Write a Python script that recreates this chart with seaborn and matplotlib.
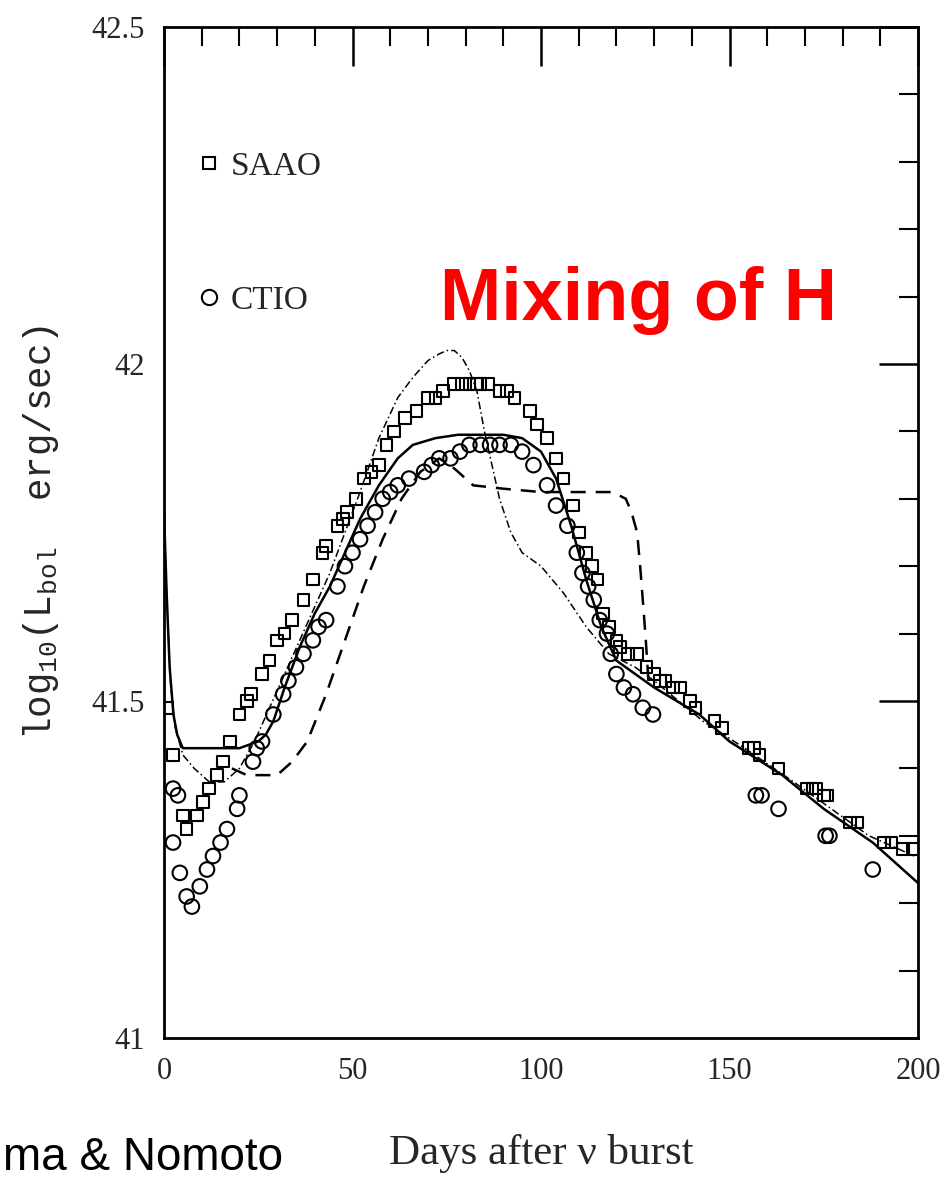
import numpy as np
import pandas as pd
import matplotlib
matplotlib.use("Agg")
import matplotlib.pyplot as plt
from matplotlib.lines import Line2D
from matplotlib.ticker import MultipleLocator
import seaborn as sns

# ---------------- data ----------------
saao_day = [0.8, 2.4, 5, 6, 8.7, 10.3, 12, 14, 15.6, 17.5, 20, 22, 23, 26, 28, 30, 32, 34,
            37, 39.5, 42, 43, 46, 47.5, 48.5, 51, 53, 55, 57, 59, 61, 64, 67, 70, 72, 74,
            77, 79, 81, 83, 84, 86, 89, 91, 93, 97, 99, 101.6, 104, 106, 108.5, 110, 112,
            113.5, 115, 116.5, 118, 120, 121, 123, 125.5, 128, 130, 131.5, 133, 135, 137,
            139.5, 141, 146, 148, 155, 156.5, 158, 163, 170.5, 172, 173, 175, 176, 182,
            184, 191, 193, 196, 198.6]
saao_val = [41.49, 41.42, 41.33, 41.31, 41.33, 41.35, 41.37, 41.39, 41.41, 41.44, 41.48,
            41.50, 41.51, 41.54, 41.56, 41.59, 41.60, 41.62, 41.65, 41.68, 41.72, 41.73,
            41.76, 41.77, 41.78, 41.80, 41.83, 41.84, 41.85, 41.88, 41.90, 41.92, 41.93,
            41.95, 41.95, 41.96, 41.97, 41.97, 41.97, 41.97, 41.97, 41.97, 41.96, 41.96,
            41.95, 41.93, 41.91, 41.89, 41.86, 41.83, 41.79, 41.75, 41.72, 41.70, 41.68,
            41.63, 41.61, 41.59, 41.58, 41.57, 41.57, 41.55, 41.54, 41.53, 41.53, 41.52,
            41.52, 41.50, 41.49, 41.47, 41.46, 41.43, 41.43, 41.42, 41.40, 41.37, 41.37,
            41.37, 41.36, 41.36, 41.32, 41.32, 41.29, 41.29, 41.28, 41.28]

ctio_day = [2.4, 3.7, 2.4, 4.2, 6, 7.4, 9.5, 11.4, 13, 15, 16.7, 19.4, 20, 23.6, 24.6, 26,
            29, 31.6, 33, 35, 37, 39.5, 41, 43, 46, 48, 50, 52, 54, 56, 58, 60, 62, 65,
            69, 71, 73, 76, 78.5, 81, 84, 86.5, 89, 92, 95, 98, 101.6, 104, 107, 109.5,
            111, 112.5, 114, 115.6, 117.5, 118.5, 120, 122, 124.4, 127, 129.7, 157,
            158.5, 163, 175.5, 176.5, 188]
ctio_val = [41.37, 41.36, 41.29, 41.245, 41.21, 41.195, 41.225, 41.25, 41.27, 41.29,
            41.31, 41.34, 41.36, 41.41, 41.43, 41.44, 41.48, 41.51, 41.53, 41.55, 41.57,
            41.59, 41.61, 41.62, 41.67, 41.70, 41.72, 41.74, 41.76, 41.78, 41.80, 41.81,
            41.82, 41.83, 41.84, 41.85, 41.86, 41.86, 41.87, 41.88, 41.88, 41.88, 41.88,
            41.88, 41.87, 41.85, 41.82, 41.79, 41.76, 41.72, 41.69, 41.67, 41.65, 41.62,
            41.60, 41.57, 41.54, 41.52, 41.51, 41.49, 41.48, 41.36, 41.36, 41.34, 41.30,
            41.30, 41.25]

solid_day = [0, 0.7, 1.5, 2.5, 3.5, 5, 10, 15, 20, 25, 27, 29, 32, 36, 40, 44, 48, 52, 57,
             62, 66, 72, 78, 84, 90, 95, 100, 104, 108, 112, 116, 120, 125, 130, 142, 150,
             164, 175, 188, 200]
solid_val = [41.78, 41.66, 41.55, 41.48, 41.45, 41.43, 41.43, 41.43, 41.43, 41.44, 41.45,
             41.47, 41.52, 41.58, 41.63, 41.67, 41.72, 41.77, 41.82, 41.86, 41.88, 41.89,
             41.895, 41.895, 41.895, 41.89, 41.87, 41.83, 41.76, 41.68, 41.61, 41.56,
             41.54, 41.52, 41.48, 41.44, 41.39, 41.34, 41.29, 41.23]

dashdot_day = [0, 0.8, 1.8, 3, 5, 8, 12, 16, 20, 24, 28, 32, 36, 40, 44, 48, 52, 57, 62,
               66, 70, 73, 75, 77, 79, 81, 83, 85, 87, 89, 92, 95, 100, 106, 112, 118, 125,
               130, 143, 154, 167, 187, 199]
dashdot_val = [41.78, 41.64, 41.52, 41.46, 41.42, 41.40, 41.38, 41.38, 41.40, 41.44,
               41.49, 41.54, 41.59, 41.64, 41.69, 41.75, 41.81, 41.89, 41.95, 41.98,
               42.005, 42.015, 42.02, 42.02, 42.01, 41.99, 41.96, 41.90, 41.85, 41.80,
               41.75, 41.72, 41.70, 41.66, 41.61, 41.57, 41.55, 41.53, 41.47, 41.43,
               41.38, 41.30, 41.27]

dashed_day = [18, 22, 25, 30, 34, 38, 43, 48, 53, 58, 63, 68, 73, 77, 82, 90, 100, 112,
              119, 122.5, 124, 125.5, 126.3, 127, 127.8, 128.5]
dashed_val = [41.40, 41.39, 41.39, 41.39, 41.41, 41.44, 41.51, 41.59, 41.67, 41.74, 41.80,
              41.84, 41.86, 41.845, 41.82, 41.815, 41.81, 41.81, 41.81, 41.80, 41.78,
              41.75, 41.70, 41.65, 41.59, 41.53]

x_ticks = [0, 50, 100, 150, 200]
y_ticks = [41, 41.5, 42, 42.5]
y_ticklabels = ["41", "41.5", "42", "42.5"]

# ---------------- plot ----------------
sns.set_style("white")
plt.rcParams["font.family"] = ["Liberation Serif", "DejaVu Serif"]
plt.rcParams["mathtext.fontset"] = "custom"
plt.rcParams["mathtext.rm"] = "Liberation Mono"
plt.rcParams["mathtext.it"] = "Liberation Mono"

fig = plt.figure(figsize=(9.47, 11.82), dpi=100)
ax = fig.add_axes([164 / 947, 1 - 1038 / 1182, (918 - 164) / 947, (1038 - 27) / 1182])

saao = pd.DataFrame({"day": saao_day, "L": saao_val})
ctio = pd.DataFrame({"day": ctio_day, "L": ctio_val})

sns.lineplot(x=solid_day, y=solid_val, ax=ax, color="black", lw=1.8,
             estimator=None, sort=False)
sns.lineplot(x=dashdot_day, y=dashdot_val, ax=ax, color="black", lw=1.1,
             estimator=None, sort=False).lines[-1].set_dashes([5, 2, 1, 2])
sns.lineplot(x=dashed_day, y=dashed_val, ax=ax, color="black", lw=1.8,
             estimator=None, sort=False).lines[-1].set_dashes([6, 4])

sns.scatterplot(data=saao, x="day", y="L", ax=ax, marker="s", s=70,
                facecolor="none", edgecolor="black", linewidth=1.5)
sns.scatterplot(data=ctio, x="day", y="L", ax=ax, marker="o", s=110,
                facecolor="none", edgecolor="black", linewidth=1.5)

ax.set_xlim(0, 200)
ax.set_ylim(41, 42.5)
ax.set_xticks(x_ticks)
ax.set_xticklabels([str(t) for t in x_ticks])
ax.set_yticks(y_ticks)
ax.set_yticklabels(y_ticklabels)
ax.xaxis.set_minor_locator(MultipleLocator(10))
ax.yaxis.set_minor_locator(MultipleLocator(0.1))
ax.tick_params(which="both", direction="in", top=True, right=True, color="black",
               labelsize=22, width=1.5)
ax.tick_params(which="major", length=28, width=1.8, pad=14)
ax.tick_params(which="minor", length=14)
for sp in ax.spines.values():
    sp.set_visible(True)
    sp.set_color("black")
    sp.set_linewidth(2)

ax.set_xlabel("Days after \u03bd burst", fontsize=31, labelpad=34)
ax.set_ylabel(r"log$_{10}$(L$_{\rm bol}$  erg/sec)", fontsize=27,
              family=["Liberation Mono", "DejaVu Sans Mono"])
ax.yaxis.set_label_coords(-0.136, 0.50)

handles = [Line2D([], [], ls="none", marker="s", ms=9, mfc="none", mec="black", mew=1.5),
           Line2D([], [], ls="none", marker="o", ms=11, mfc="none", mec="black", mew=1.5)]
ax.legend(handles, ["SAAO", "CTIO"], loc="upper left", bbox_to_anchor=(0.029, 0.89),
          frameon=False, fontsize=24, handlelength=0.6, handletextpad=0.35,
          labelspacing=3.1, borderaxespad=0)

fig.text(440 / 947, 1 - 320 / 1182, "Mixing of H", color="#ff0000", fontsize=53,
         fontweight="bold", family=["Liberation Sans", "DejaVu Sans"],
         ha="left", va="baseline")
fig.text(3 / 947, 2 / 1182, "ma & Nomoto", color="black", fontsize=33,
         family=["Liberation Sans", "DejaVu Sans"], ha="left", va="bottom")

fig.savefig("out.png", dpi=100, facecolor="white")
